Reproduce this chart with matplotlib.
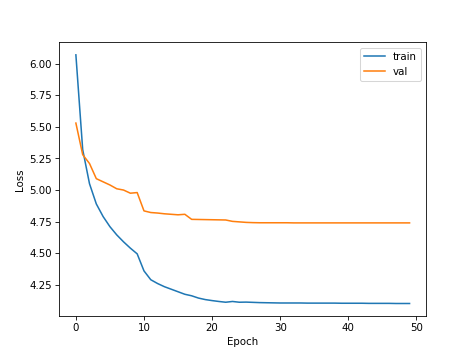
import matplotlib.pyplot as plt

epochs = list(range(50))

train_loss = [
    6.07, 5.32, 5.05, 4.89, 4.79, 4.71, 4.645, 4.59, 4.54, 4.495,
    4.36, 4.29, 4.26, 4.235, 4.215, 4.195, 4.175, 4.163, 4.145, 4.133,
    4.125, 4.118, 4.112, 4.118, 4.112, 4.113, 4.111, 4.109, 4.108, 4.107,
    4.106, 4.106, 4.106, 4.106, 4.105, 4.105, 4.105, 4.105, 4.105, 4.104,
    4.104, 4.104, 4.104, 4.103, 4.103, 4.103, 4.103, 4.102, 4.102, 4.102,
]

val_loss = [
    5.53, 5.28, 5.21, 5.09, 5.065, 5.04, 5.01, 5.0, 4.975, 4.98,
    4.835, 4.822, 4.818, 4.812, 4.808, 4.804, 4.808, 4.768, 4.767, 4.766,
    4.765, 4.764, 4.763, 4.752, 4.748, 4.744, 4.742, 4.741, 4.741, 4.741,
    4.741, 4.741, 4.740, 4.740, 4.740, 4.740, 4.740, 4.740, 4.740, 4.740,
    4.740, 4.740, 4.740, 4.740, 4.740, 4.740, 4.740, 4.740, 4.740, 4.740,
]

plt.figure(figsize=(6.4, 4.8), dpi=74)
plt.plot(epochs, train_loss, label="train")
plt.plot(epochs, val_loss, label="val")
plt.xlabel("Epoch")
plt.ylabel("Loss")
plt.legend()
plt.savefig("out.png", dpi=74)
